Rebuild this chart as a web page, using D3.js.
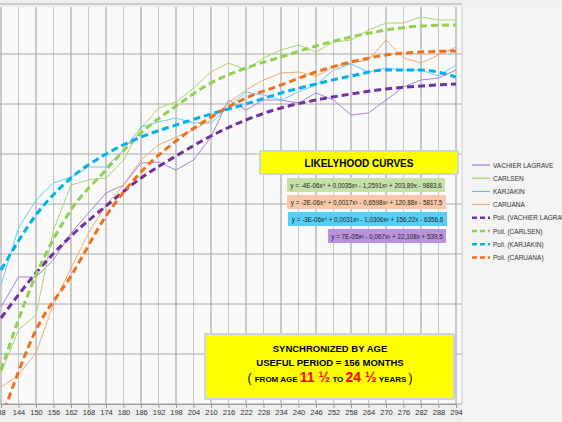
<!DOCTYPE html>
<html><head><meta charset="utf-8">
<script src="https://cdn.jsdelivr.net/npm/d3@7"></script>
<style>body{margin:0;background:#efefef;font-family:"Liberation Sans",Arial,sans-serif}</style>
</head><body><svg id="c" width="562" height="422"></svg>
<script>
const rawMonths = d3.range(138, 295, 6);
const fitMonths = d3.range(138, 295, 12);
const tickLabels = d3.range(138, 295, 6);
const vachierRaw = [2194,2254,2254,2288,2342,2382,2422,2438,2482,2484,2468,2488,2534,2608,2588,2608,2608,2602,2622,2608,2578,2582,2608,2634,2648,2652,2668];
const carlsenRaw = [2062,2148,2178,2348,2438,2448,2452,2488,2552,2592,2604,2632,2664,2682,2668,2692,2708,2718,2704,2724,2728,2748,2762,2762,2774,2768,2768];
const kariakinRaw = [2238,2352,2408,2442,2454,2474,2474,2508,2554,2564,2572,2562,2562,2594,2624,2618,2608,2624,2638,2668,2680,2664,2672,2668,2668,2656,2678];
const caruanaRaw = [2034,2058,2102,2200,2272,2342,2398,2438,2488,2518,2534,2548,2568,2602,2628,2648,2662,2664,2656,2674,2682,2688,2728,2692,2682,2698,2714];
const vachierFit = [2172,2262,2336,2396,2452,2496,2536,2568,2592,2608,2620,2630,2636,2640];
const carlsenFit = [2068,2258,2388,2468,2542,2596,2642,2672,2694,2716,2734,2748,2756,2758];
const kariakinFit = [2268,2378,2452,2500,2534,2558,2580,2600,2622,2640,2656,2668,2668,2654];
const caruanaFit = [1968,2148,2256,2376,2464,2526,2574,2612,2638,2664,2684,2698,2704,2706];
const legendNames = ["VACHIER LAGRAVE","CARLSEN","KARJAKIN","CARUANA","Poli. (VACHIER LAGRAVE)","Poli. (CARLSEN)","Poli. (KARJAKIN)","Poli. (CARUANA)"];
const equations = ["y = -4E-06x⁴ + 0,0035x³ - 1,2591x² + 203,89x - 9883,6","y = -2E-06x⁴ + 0,0017x³ - 0,6598x² + 120,88x - 5817,5","y = -3E-06x⁴ + 0,0031x³ - 1,0306x² + 156,22x - 6356,6","y = 7E-05x³ - 0,067x² + 22,108x + 539,5"];

const svg = d3.select("#c");
const x = d3.scaleLinear().domain([138,294]).range([1,456]);
const y = d3.scaleLinear().domain([2000,2800]).range([404,4]);
svg.append("rect").attr("x",0).attr("y",7).attr("width",462).attr("height",397).attr("fill","#fafafa");
svg.append("rect").attr("x",462).attr("y",7).attr("width",100).attr("height",415).attr("fill","#f4f4f4");
svg.append("defs").append("clipPath").attr("id","cp").append("rect").attr("x",0).attr("y",7).attr("width",462).attr("height",397);
const g = svg.append("g");
tickLabels.forEach((m,i)=>g.append("line").attr("x1",x(m)).attr("x2",x(m)).attr("y1",7).attr("y2",404).attr("stroke",i%2?"#c8c8c8":"#999").attr("stroke-width",1));
d3.range(2000,2801,100).forEach(v=>g.append("line").attr("x1",0).attr("x2",462).attr("y1",y(v)).attr("y2",y(v)).attr("stroke","#aaa"));
g.append("line").attr("x1",462).attr("x2",462).attr("y1",7).attr("y2",404).attr("stroke","#ccc");
const ax = svg.append("g").attr("transform","translate(0,404)").call(d3.axisBottom(x).tickValues(tickLabels).tickSize(4).tickFormat(d=>d===138?"38":d));
ax.select(".domain").attr("stroke","#999");
ax.selectAll("line").attr("stroke","#999");
ax.selectAll("text").attr("font-size",7.5).attr("fill","#333").attr("dy","0.55em");
const plot = svg.append("g").attr("clip-path","url(#cp)");
const raw = [[vachierRaw,"#a884d6"],[carlsenRaw,"#a6d86e"],[kariakinRaw,"#6ccaf2"],[caruanaRaw,"#f5a86e"]];
const fits = [[vachierFit,"#7030a0"],[carlsenFit,"#92d050"],[kariakinFit,"#00b0f0"],[caruanaFit,"#f07020"]];
const lr = d3.line().x((d,i)=>x(rawMonths[i])).y(d=>y(d));
raw.forEach(([d,c])=>plot.append("path").attr("d",lr(d)).attr("fill","none").attr("stroke",c).attr("stroke-width",1));
const lf = d3.line().x((d,i)=>x(fitMonths[i])).y(d=>y(d)).curve(d3.curveMonotoneX);
fits.forEach(([d,c])=>plot.append("path").attr("d",lf(d)).attr("fill","none").attr("stroke",c).attr("stroke-width",3).attr("stroke-dasharray","7,4"));
function box(x0,y0,w,h){svg.append("rect").attr("x",x0-2).attr("y",y0-2).attr("width",w+4).attr("height",h+4).attr("fill","#c8d4ec").attr("rx",2);
 svg.append("rect").attr("x",x0).attr("y",y0).attr("width",w).attr("height",h).attr("fill","#ffff00");}
box(261,152,196,21);
svg.append("text").attr("x",359).attr("y",167).attr("text-anchor","middle").attr("font-size",10).attr("font-weight","bold").text("LIKELYHOOD CURVES");
const eqBg = [["#c6e0a8",287,178,158],["#f8c9a8",287,195,159],["#56cff7",288,212,159],["#b993dc",328,229,118]];
eqBg.forEach(([c,x0,y0,w],i)=>{svg.append("rect").attr("x",x0).attr("y",y0).attr("width",w).attr("height",14).attr("fill",c);
 svg.append("text").attr("x",x0+w/2).attr("y",y0+10).attr("text-anchor","middle").attr("font-size",6.3).attr("fill","#222").text(equations[i]);});
box(206,335,247,63);
svg.append("text").attr("x",330).attr("y",352).attr("text-anchor","middle").attr("font-size",9.5).attr("font-weight","bold").text("SYNCHRONIZED  BY AGE");
svg.append("text").attr("x",330).attr("y",366).attr("text-anchor","middle").attr("font-size",9.5).attr("font-weight","bold").text("USEFUL PERIOD = 156 MONTHS");
const t3 = svg.append("text").attr("x",330).attr("y",382).attr("text-anchor","middle").attr("font-weight","bold").attr("font-size",8);
t3.append("tspan").attr("font-size",12).attr("font-weight","normal").text("( ");
t3.append("tspan").text(" FROM AGE ");
t3.append("tspan").attr("fill","#ff0000").attr("font-size",14).text("11 ½");
t3.append("tspan").text(" TO ");
t3.append("tspan").attr("fill","#ff0000").attr("font-size",14).text("24 ½");
t3.append("tspan").text(" YEARS ");
t3.append("tspan").attr("font-size",12).attr("font-weight","normal").text(" )");
const lcol = ["#8e64c4","#92d050","#4bb8ea","#f5a86e","#7030a0","#92d050","#00b0f0","#f07020"];
legendNames.forEach((n,i)=>{const yy=165+i*13.2;
 svg.append("line").attr("x1",472).attr("x2",490).attr("y1",yy).attr("y2",yy).attr("stroke",lcol[i]).attr("stroke-width",i<4?1:2.5).attr("stroke-dasharray",i<4?null:"5,3");
 svg.append("text").attr("x",493).attr("y",yy+2.5).attr("font-size",6.5).attr("fill","#333").text(n);});
</script></body></html>
